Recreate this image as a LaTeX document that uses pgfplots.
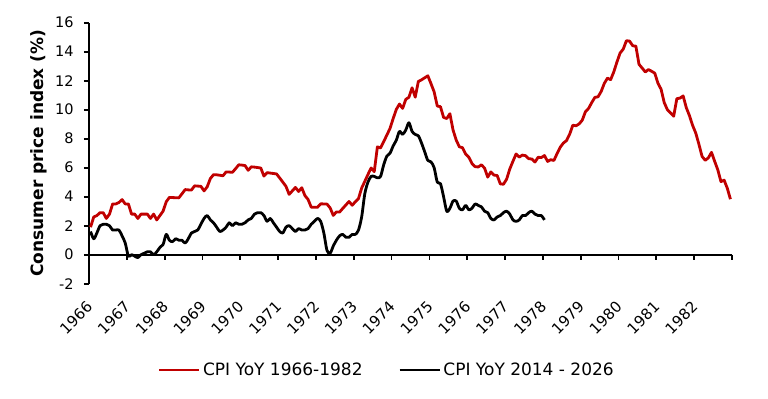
\documentclass[border=0pt]{standalone}
\usepackage{fontspec}
\setmainfont{DejaVu Sans}
\usepackage{pgfplots}
\usepackage{pgfplotstable}
\pgfplotsset{compat=1.18}
\definecolor{cpired}{HTML}{C00000}

\pgfplotstableread{
y
1.9
2.6
2.7
2.9
2.9
2.5
2.8
3.5
3.5
3.6
3.8
3.5
3.5
2.8
2.8
2.5
2.8
2.8
2.8
2.5
2.8
2.4
2.7
3.0
3.65
3.95
3.94
3.93
3.92
4.2
4.49
4.47
4.46
4.75
4.73
4.72
4.4
4.68
5.25
5.52
5.51
5.48
5.44
5.71
5.7
5.68
5.93
6.2
6.18
6.15
5.82
6.06
6.04
6.01
5.98
5.42
5.66
5.63
5.6
5.57
5.29
5.0
4.71
4.16
4.4
4.64
4.36
4.62
4.08
3.81
3.28
3.27
3.27
3.51
3.5
3.49
3.23
2.71
2.95
2.94
3.19
3.43
3.67
3.41
3.65
3.87
4.59
5.06
5.53
5.98
5.73
7.44
7.36
7.8
8.25
8.71
9.39
10.02
10.39
10.09
10.71
10.86
11.51
10.86
11.95
12.06
12.2
12.34
11.8
11.23
10.25
10.21
9.47
9.39
9.72
8.6
7.91
7.44
7.38
6.94
6.72
6.29
6.07
6.05
6.2
5.97
5.35
5.71
5.49
5.46
4.88
4.86
5.21
5.91
6.44
6.95
6.73
6.87
6.83
6.62
6.6
6.39
6.72
6.7
6.84
6.43
6.55
6.5
6.97
7.41
7.7
7.87
8.31
8.93
8.89
9.02
9.28
9.86
10.09
10.49
10.85
10.89
11.26
11.82
12.18
12.07
12.61
13.29
13.91
14.18
14.76
14.73
14.41
14.38
13.13
12.87
12.6
12.77
12.65
12.52
11.83
11.41
10.49
10.0
9.78
9.55
10.76
10.8
10.95
10.14
9.59
8.92
8.39
7.62
6.78
6.51
6.68
7.06
6.44
5.85
5.04
5.14
4.59
3.83
}\redtable

\pgfplotstableread{
y
1.6
1.1
1.5
2.0
2.1
2.1
2.0
1.7
1.7
1.7
1.3
0.8
-0.1
0.0
-0.1
-0.2
0.0
0.1
0.2
0.2
0.0
0.2
0.5
0.7
1.4
1.0
0.9
1.1
1.0
1.0
0.8
1.1
1.5
1.6
1.7
2.1
2.5
2.7
2.4
2.2
1.9
1.6
1.7
1.9
2.2
2.0
2.2
2.1
2.1
2.2
2.4
2.5
2.8
2.9
2.9
2.7
2.3
2.5
2.2
1.9
1.6
1.5
1.9
2.0
1.8
1.6
1.8
1.7
1.7
1.8
2.1
2.3
2.5
2.3
1.5
0.3
0.1
0.6
1.0
1.3
1.4
1.2
1.2
1.4
1.4
1.7
2.6
4.2
5.0
5.4
5.4
5.3
5.4
6.2
6.8
7.0
7.5
7.9
8.5
8.3
8.6
9.1
8.5
8.3
8.2
7.7
7.1
6.5
6.4
6.0
5.0
4.9
4.0
3.0
3.2
3.7
3.7
3.2
3.1
3.4
3.1
3.2
3.5
3.4
3.3
3.0
2.9
2.5
2.4
2.6
2.7
2.9
3.0
2.8
2.4
2.3
2.4
2.7
2.7
2.9
3.0
2.8
2.7
2.7
2.4
}\blacktable

\begin{document}
\begin{tikzpicture}
\path[use as bounding box] (-89bp,-115.3bp) rectangle (679bp,283.7bp);
\begin{axis}[
  at={(0,0)}, anchor=south west,
  scale only axis,
  width=643bp, height=261bp,
  xmin=0, xmax=17,
  ymin=-2, ymax=16,
  clip=false,
  axis y line*=left,
  axis x line*=bottom,
  y axis line style={-, black, line width=1.8bp},
  x axis line style={draw=none},
  xtick={0,1,...,17},
  xticklabels={1966,1967,1968,1969,1970,1971,1972,1973,1974,1975,1976,1977,1978,1979,1980,1981,1982,{}},
  ytick={-2,0,2,4,6,8,10,12,14,16},
  xtick pos=bottom, ytick pos=left,
  tick align=outside,
  x tick style={draw=none},
  y tick style={black, line width=1.8bp},
  major tick length=5bp,
  extra y ticks={0},
  extra y tick labels={},
  extra y tick style={grid=major, major grid style={black, line width=1.8bp}, tick style={draw=none}},
  xticklabel style={font=\fontsize{15bp}{17bp}\selectfont, xshift=3bp, yshift=-13bp, rotate=45, anchor=east},
  yticklabel style={font=\fontsize{14.5bp}{16bp}\selectfont, /pgf/number format/assume math mode=true, xshift=-7bp},
  ylabel={\bfseries Consumer price index (\%)},
  every axis y label/.style={at={(axis description cs:-0.0778,0.5)}, rotate=90, anchor=center, font=\fontsize{17bp}{19bp}\selectfont},
  legend columns=2,
  legend style={at={(axis description cs:0.4635,-0.331)}, anchor=center, draw=none, fill=none,
    font=\fontsize{17bp}{19bp}\selectfont, inner sep=0pt,
    nodes={inner sep=2.5bp},
    /tikz/every even column/.append style={column sep=33bp}},
  legend image code/.code={\draw[#1] (0bp,0bp) -- (40bp,0bp);},
]
\pgfplotsinvokeforeach{1,2,...,17}{
  \draw[black, line width=1.8bp] (axis cs:#1,0) -- ([yshift=-5bp]axis cs:#1,0);
}
\addplot[cpired, line width=2.8bp, line join=round] table[x expr={(\coordindex+0.5)/12}, y=y]{\redtable};
\addlegendentry{CPI YoY 1966-1982}
\addplot[black, line width=2.8bp, smooth, line join=round] table[x expr={(\coordindex+0.5)/12}, y=y]{\blacktable};
\addlegendentry{CPI YoY 2014 - 2026}
\end{axis}
\end{tikzpicture}
\end{document}
